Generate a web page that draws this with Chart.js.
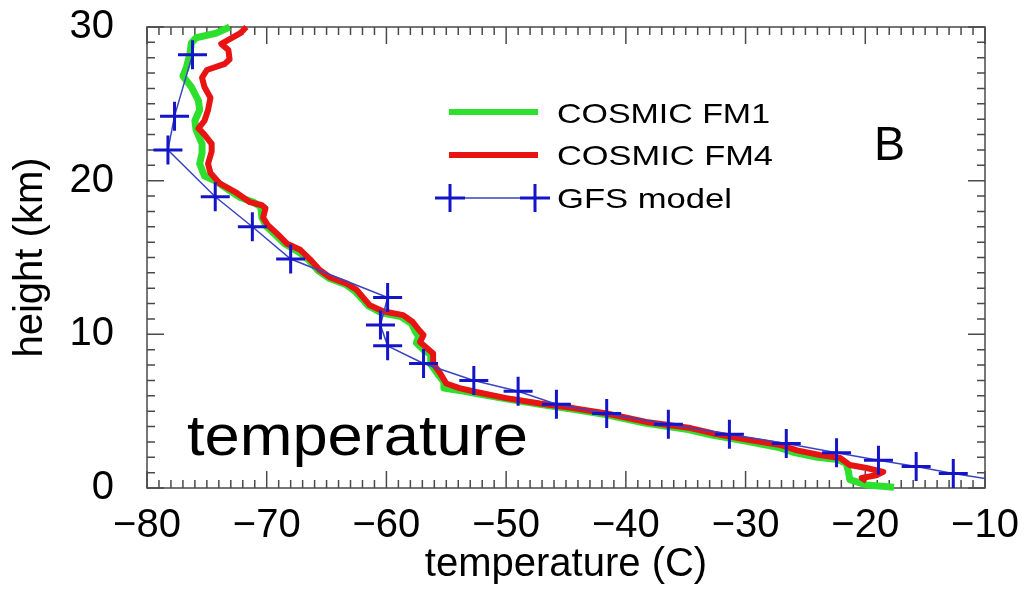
<!DOCTYPE html>
<html>
<head>
<meta charset="utf-8">
<script src="https://cdn.jsdelivr.net/npm/chart.js@4.4.1/dist/chart.umd.min.js"></script>
<style>
  html, body { margin: 0; padding: 0; background: #fff; }
  #wrap { width: 1024px; height: 589px; }
</style>
</head>
<body>
<div id="wrap"><canvas id="profile" width="1024" height="589"></canvas></div>
<script>
// Axis ticks
const xTicks = [-80, -70, -60, -50, -40, -30, -20, -10];
const yTicks = [0, 10, 20, 30];

// COSMIC FM1 (green), top to bottom
const fm1Temp = [-73.1, -74.2, -75.9, -76.3, -76.4, -76.7, -77.0, -76.3, -75.7, -75.6, -76.0, -75.9,
  -75.4, -75.4, -75.6, -75.2, -74.3, -73.1, -72.2, -71.1, -70.5, -70.4, -70.0, -69.3, -68.5, -67.4,
  -66.5, -65.7, -64.8, -63.4, -62.6, -61.5, -60.4, -58.8, -57.9, -57.6, -57.3, -57.5, -56.9, -56.3,
  -56.3, -55.7, -55.2, -55.2, -53.9, -52.5, -50.0, -47.2, -44.4, -41.7, -38.4, -34.8, -32.8, -30.0,
  -27.3, -25.9, -24.0, -22.3, -21.6, -21.4, -21.3, -19.9, -17.6];
const fm1Height = [30.0, 29.6, 29.3, 28.95, 28.3, 27.4, 26.8, 26.1, 25.2, 24.6, 23.9, 23.3,
  22.4, 21.8, 21.1, 20.3, 20.0, 19.35, 18.9, 18.6, 18.3, 17.6, 17.0, 16.5, 15.9, 15.4,
  14.85, 14.15, 13.65, 13.25, 12.8, 11.85, 11.4, 11.15, 10.7, 10.2, 9.85, 9.45, 9.0, 8.7,
  8.05, 7.4, 6.9, 6.5, 6.35, 6.15, 5.8, 5.45, 5.12, 4.78, 4.22, 3.8, 3.45, 3.05,
  2.65, 2.3, 2.0, 1.85, 1.6, 1.05, 0.55, 0.2, 0.05];

// COSMIC FM4 (red), top to bottom
const fm4Temp = [-71.7, -72.2, -73.8, -73.2, -73.1, -73.5, -75.0, -75.4, -75.2, -74.7, -74.9, -75.2,
  -75.7, -75.2, -74.6, -74.6, -74.9, -74.7, -73.9, -72.5, -71.4, -70.4, -70.1, -70.3, -69.9, -69.2,
  -68.3, -67.2, -66.4, -65.6, -64.7, -63.3, -62.5, -61.4, -60.3, -58.6, -57.8, -57.3, -56.9, -57.2,
  -56.6, -56.1, -56.1, -55.5, -55.0, -53.9, -52.5, -50.0, -47.2, -44.4, -41.6, -38.3, -34.6, -32.7,
  -29.9, -27.1, -25.7, -23.8, -22.1, -21.3, -19.9, -18.5, -19.0, -20.3, -19.9];
const fm4Height = [30.0, 29.6, 28.9, 28.5, 27.9, 27.6, 27.2, 26.7, 26.1, 25.4, 24.6, 23.9,
  23.4, 23.0, 22.4, 21.9, 21.1, 20.5, 19.8, 19.2, 18.6, 18.4, 18.2, 17.6, 17.1, 16.6,
  15.9, 15.5, 14.9, 14.2, 13.7, 13.3, 12.9, 11.9, 11.5, 11.25, 10.8, 10.3, 9.95, 9.5,
  9.1, 8.75, 8.1, 7.45, 6.8, 6.5, 6.25, 5.85, 5.5, 5.2, 4.85, 4.3, 3.9, 3.55,
  3.15, 2.8, 2.45, 2.15, 1.95, 1.5, 1.3, 1.05, 0.85, 0.65, 0.45];

// GFS model (blue crosses); the last point lies past the axis, only its line shows
const gfsTemp = [-76.2, -77.7, -78.25, -74.3, -71.2, -68.0, -59.9, -60.5, -59.9, -56.9, -52.7,
  -49.0, -45.8, -41.6, -36.45, -31.35, -26.6, -22.4, -18.9, -15.75, -12.65, -9.0];
const gfsHeight = [28.2, 24.2, 22.0, 18.95, 17.0, 14.9, 12.4, 10.6, 9.25, 8.1, 7.0,
  6.3, 5.45, 4.85, 4.15, 3.5, 2.9, 2.3, 1.8, 1.4, 0.95, 0.5];

const FONT = '"Liberation Sans", Arial, Helvetica, sans-serif';
const BLUE = '#1414c8';

function toPoints(xs, ys) {
  return xs.map((x, i) => ({ x: x, y: ys[i] }));
}

// draw text stretched horizontally to a given width
function stretchText(ctx, text, x, y, size, width) {
  ctx.font = size + 'px ' + FONT;
  const w = ctx.measureText(text).width;
  ctx.save();
  ctx.translate(x, y);
  ctx.scale(width / w, 1);
  ctx.fillText(text, 0, 0);
  ctx.restore();
}

// frame with inward ticks on all four sides
const framePlugin = {
  id: 'frame',
  beforeDatasetsDraw(chart) {
    const { ctx, chartArea: a, scales } = chart;
    const xs = scales.x, ys = scales.y;
    ctx.save();
    ctx.strokeStyle = '#4a4a4a';
    ctx.lineWidth = 1.5;
    ctx.strokeRect(a.left, a.top, a.right - a.left, a.bottom - a.top);
    ctx.beginPath();
    for (let v = -80; v <= -10; v++) {
      const px = xs.getPixelForValue(v);
      const len = v % 10 === 0 ? 17 : 8;
      ctx.moveTo(px, a.bottom); ctx.lineTo(px, a.bottom - len);
      ctx.moveTo(px, a.top); ctx.lineTo(px, a.top + len);
    }
    for (let v = 0; v <= 30; v++) {
      const py = ys.getPixelForValue(v);
      const len = v % 10 === 0 ? 17 : 8;
      ctx.moveTo(a.left, py); ctx.lineTo(a.left + len, py);
      ctx.moveTo(a.right, py); ctx.lineTo(a.right - len, py);
    }
    ctx.stroke();
    ctx.restore();
  }
};

// legend, panel letter and the big word in the plot
const notesPlugin = {
  id: 'notes',
  afterDraw(chart) {
    const ctx = chart.ctx;
    ctx.save();
    ctx.lineCap = 'butt';
    ctx.lineWidth = 6;
    ctx.strokeStyle = '#2ee02e';
    ctx.beginPath(); ctx.moveTo(449, 112); ctx.lineTo(538, 112); ctx.stroke();
    ctx.strokeStyle = '#e81414';
    ctx.beginPath(); ctx.moveTo(449, 155); ctx.lineTo(538, 155); ctx.stroke();

    ctx.strokeStyle = '#3a44c0';
    ctx.lineWidth = 1.5;
    ctx.beginPath(); ctx.moveTo(450, 198); ctx.lineTo(535, 198); ctx.stroke();
    ctx.strokeStyle = BLUE;
    ctx.lineWidth = 3;
    [450, 535].forEach(cx => {
      ctx.beginPath();
      ctx.moveTo(cx - 15, 198); ctx.lineTo(cx + 15, 198);
      ctx.moveTo(cx, 184); ctx.lineTo(cx, 212);
      ctx.stroke();
    });

    ctx.fillStyle = '#000';
    ctx.textBaseline = 'alphabetic';
    ctx.textAlign = 'left';
    stretchText(ctx, 'COSMIC FM1', 557, 123, 28, 213);
    stretchText(ctx, 'COSMIC FM4', 557, 165, 28, 216);
    stretchText(ctx, 'GFS model', 557, 208, 28, 175);
    stretchText(ctx, 'B', 874, 160, 48, 31);
    stretchText(ctx, 'temperature', 187, 455, 58, 341);
    ctx.restore();
  }
};

new Chart(document.getElementById('profile'), {
  type: 'scatter',
  data: {
    datasets: [
      {
        label: 'GFS model',
        data: toPoints(gfsTemp, gfsHeight),
        showLine: true,
        borderColor: '#3a44c0',
        borderWidth: 1.5,
        pointStyle: 'cross',
        pointRadius: ctx => ctx.dataIndex < gfsTemp.length - 1 ? 14.5 : 0,
        pointBorderColor: BLUE,
        pointBorderWidth: 3,
        clip: 0
      },
      {
        label: 'COSMIC FM4',
        data: toPoints(fm4Temp, fm4Height),
        showLine: true,
        borderColor: '#e81414',
        borderWidth: 6,
        pointRadius: 0,
        borderJoinStyle: 'round',
        clip: 4
      },
      {
        label: 'COSMIC FM1',
        data: toPoints(fm1Temp, fm1Height),
        showLine: true,
        borderColor: '#2ee02e',
        borderWidth: 7,
        pointRadius: 0,
        borderJoinStyle: 'round',
        clip: 4
      }
    ]
  },
  options: {
    responsive: false,
    devicePixelRatio: 1,
    animation: false,
    events: [],
    layout: { padding: { top: 27, right: 39, left: 0, bottom: 0 } },
    plugins: {
      legend: { display: false },
      tooltip: { enabled: false }
    },
    scales: {
      x: {
        type: 'linear',
        min: -80,
        max: -10,
        afterFit: s => { s.height = 101; s.paddingLeft = 0; s.paddingRight = 0; },
        afterBuildTicks: s => { s.ticks = xTicks.map(v => ({ value: v })); },
        grid: { display: false },
        border: { display: false },
        ticks: {
          color: '#000',
          padding: 6,
          maxRotation: 0,
          font: { family: FONT, size: 40 },
          callback: v => String(v).replace('-', '\u2212')
        },
        title: {
          display: true,
          text: 'temperature (C)',
          color: '#000',
          padding: { top: 0, bottom: 0 },
          font: { family: FONT, size: 40 }
        }
      },
      y: {
        type: 'linear',
        min: 0,
        max: 30,
        afterFit: s => { s.width = 147; s.paddingTop = 0; s.paddingBottom = 0; },
        afterBuildTicks: s => { s.ticks = yTicks.map(v => ({ value: v })); },
        grid: { display: false },
        border: { display: false },
        ticks: {
          color: '#000',
          padding: 25,
          font: { family: FONT, size: 40 }
        },
        title: {
          display: true,
          text: 'height (km)',
          color: '#000',
          padding: { top: 7, bottom: 0 },
          font: { family: FONT, size: 40 }
        }
      }
    }
  },
  plugins: [framePlugin, notesPlugin]
});
</script>
</body>
</html>
